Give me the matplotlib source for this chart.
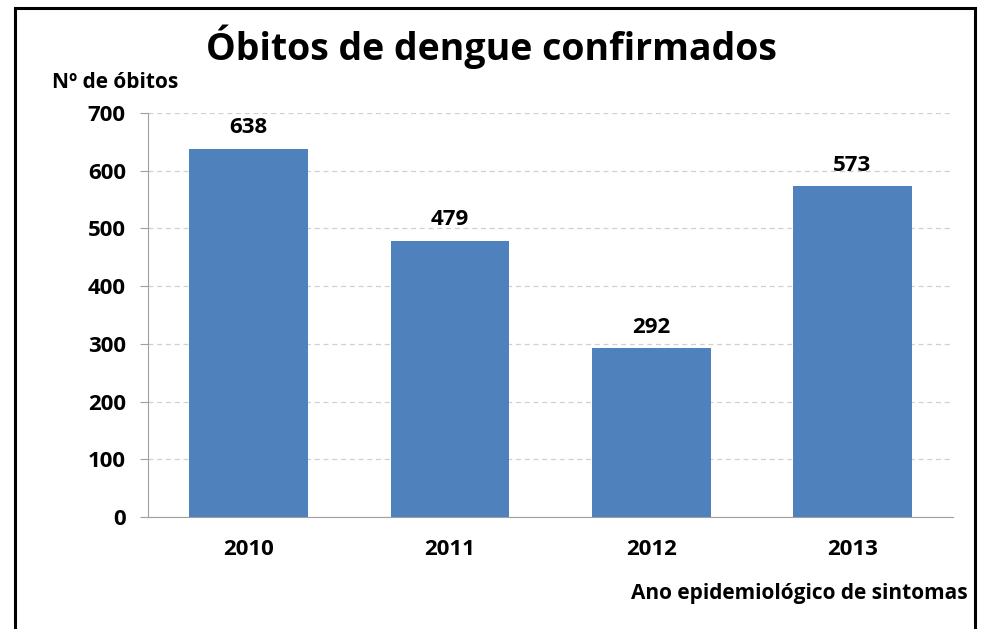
import matplotlib
matplotlib.use("Agg")
import matplotlib.pyplot as plt
from matplotlib.patches import Rectangle

# dados
anos = ["2010", "2011", "2012", "2013"]
obitos = [638, 479, 292, 573]
yticks = [0, 100, 200, 300, 400, 500, 600, 700]

plt.rcParams['font.family'] = ['Open Sans', 'DejaVu Sans']

fig = plt.figure(figsize=(9.82, 6.29), dpi=100)
ax = fig.add_axes([0.1507, 0.178, 0.8198, 0.6424])

# moldura do grafico (corta embaixo, como no print)
fig.patches.append(Rectangle((15 / 982, -0.05), (975 - 15) / 982, 1 - 8 / 629 + 0.05,
                             transform=fig.transFigure, fill=False,
                             edgecolor='black', linewidth=2.2, zorder=10))

x = range(len(anos))
bars = ax.bar(x, obitos, width=0.59, color='#4F81BD', zorder=3)
for b, v in zip(bars, obitos):
    ax.text(b.get_x() + b.get_width() / 2, v + 18, str(v), ha='center', va='bottom',
            fontsize=16, fontweight='bold', color='black')

ax.set_xlim(-0.5, len(anos) - 0.5)
ax.set_ylim(0, 700)
ax.set_yticks(yticks)
ax.set_xticks(list(x))
ax.set_xticklabels(anos)
ax.yaxis.grid(True, linestyle=(0, (4, 3)), color='#D0D0D0', linewidth=0.9, zorder=0)
ax.set_axisbelow(True)

for s in ['top', 'right']:
    ax.spines[s].set_visible(False)
ax.spines['left'].set_color('#A0A0A0')
ax.spines['bottom'].set_color('#A0A0A0')
ax.tick_params(axis='y', length=6, color='#A0A0A0', pad=10, labelsize=16)
ax.tick_params(axis='x', length=0, pad=16, labelsize=16)
for lab in ax.get_xticklabels() + ax.get_yticklabels():
    lab.set_fontweight('bold')

fig.text(0.5, 0.925, "Óbitos de dengue confirmados", ha='center', va='center',
         fontsize=27, fontweight='bold')
fig.text(52 / 982, 1 - 83 / 629, "Nº de óbitos", ha='left', va='center',
         fontsize=15, fontweight='bold')
fig.text(968 / 982, 1 - 593 / 629, "Ano epidemiológico de sintomas", ha='right', va='center',
         fontsize=15, fontweight='bold')

fig.savefig("out.png", dpi=100)
